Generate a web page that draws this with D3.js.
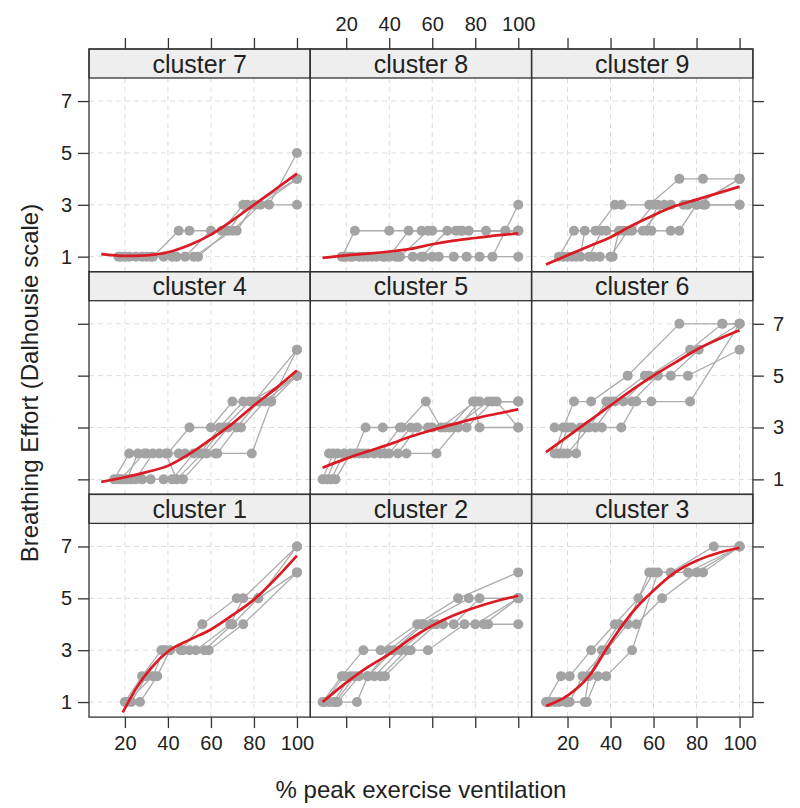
<!DOCTYPE html>
<html>
<head>
<meta charset="utf-8">
<script src="https://cdn.jsdelivr.net/npm/d3@7"></script>
<style>
  body { margin: 0; background: #fff; }
  svg { display: block; font-family: "Liberation Sans", Arial, sans-serif; }
</style>
</head>
<body>
<svg id="chart" width="800" height="808"></svg>
<script>
// panel order, as drawn from top-left
var clusterOrder = [7, 8, 9, 4, 5, 6, 1, 2, 3];
var xTicks = [20, 40, 60, 80, 100];
var yTicks = [1, 3, 5, 7];

// one list of [x, y] per subject, plus the red smooth
var subjects7 = [
  [[17,1],[25,1],[33,1],[45,2],[50,2],[65,2],[75,3],[87,3],[100,5]],
  [[18,1],[28,1],[38,1],[48,1],[60,2],[72,2],[80,3],[100,4]],
  [[20,1],[30,1],[42,1],[54,1],[68,2],[77,3],[100,3]],
  [[22,1],[32,1],[44,1],[52,1],[70,2],[83,3],[100,4]]
];
var fit7 = [[9,1.1],[20,1.03],[30,1.05],[40,1.17],[50,1.45],[60,1.85],[70,2.4],[80,3.0],[90,3.6],[100,4.2]];

var subjects8 = [
  [[18,1],[24,2],[40,2],[55,2],[71,2],[85,2],[100,2]],
  [[20,1],[30,1],[40,1],[49,2],[60,2],[74,2],[94,2],[100,3]],
  [[22,1],[34,1],[44,1],[55,1],[67,2],[77,2],[100,2]],
  [[19,1],[28,1],[38,1],[51,1],[60,1],[70,1],[82,1],[100,1]],
  [[23,1],[32,1],[43,1],[56,1],[63,1],[76,1],[88,1],[94,2],[100,2]],
  [[26,1],[37,1],[45,1],[58,2],[73,2],[100,2]]
];
var fit8 = [[9,0.95],[20,1.05],[30,1.12],[40,1.2],[50,1.3],[60,1.48],[70,1.62],[80,1.72],[90,1.82],[100,1.9]];

var subjects9 = [
  [[16,1],[23,2],[33,2],[42,3],[45,3],[58,3],[72,4],[83,4],[100,4]],
  [[18,1],[26,1],[28,2],[38,2],[50,2],[60,3],[68,3],[80,3],[100,4]],
  [[20,1],[30,1],[36,2],[46,2],[57,2],[62,3],[76,3],[84,3],[100,3]],
  [[22,1],[32,1],[40,1],[48,2],[59,2],[68,2],[72,2],[80,3],[100,4]],
  [[24,1],[35,1],[41,1],[44,2],[55,2],[65,3],[74,3],[83,3],[100,3]]
];
var fit9 = [[10,0.7],[20,1.05],[30,1.4],[40,1.75],[50,2.2],[60,2.6],[70,2.95],[80,3.2],[90,3.45],[100,3.7]];

var subjects4 = [
  [[15,1],[22,2],[30,2],[40,2],[50,3],[60,3],[70,4],[80,4],[100,6]],
  [[17,1],[25,1],[33,2],[45,2],[55,2],[64,3],[75,4],[88,4],[100,5]],
  [[19,1],[28,1],[38,1],[47,1],[58,2],[68,3],[74,3],[85,4],[100,5]],
  [[21,1],[26,2],[36,2],[48,2],[62,2],[79,2],[88,4],[100,6]],
  [[23,1],[32,1],[42,1],[52,2],[63,2],[72,3],[82,4],[100,5]],
  [[18,1],[29,2],[39,2],[44,1],[56,2],[66,3],[78,4],[100,5]]
];
var fit4 = [[9,0.9],[20,1.08],[30,1.28],[40,1.52],[50,1.98],[60,2.55],[70,3.15],[80,3.85],[90,4.5],[100,5.2]];

var subjects5 = [
  [[9,1],[14,2],[24,2],[29,3],[37,3],[46,3],[57,4],[64,3],[80,4],[100,4]],
  [[11,1],[16,2],[28,2],[38,2],[48,2],[62,2],[72,3],[82,4],[90,4],[100,3]],
  [[13,1],[19,2],[30,2],[40,2],[50,3],[60,3],[70,3],[86,4],[100,4]],
  [[15,1],[22,2],[33,2],[44,2],[53,3],[66,3],[76,3],[88,4],[100,4]],
  [[12,2],[26,2],[36,2],[45,3],[58,3],[68,3],[79,4],[82,3],[100,3]]
];
var fit5 = [[9,1.45],[20,1.8],[30,2.08],[40,2.35],[50,2.65],[60,2.9],[70,3.13],[80,3.35],[90,3.53],[100,3.7]];

var subjects6 = [
  [[14,2],[18,3],[23,4],[31,4],[48,5],[72,7],[92,7],[100,7]],
  [[16,2],[20,3],[28,3],[40,4],[56,5],[68,5],[81,6],[100,7]],
  [[18,2],[24,2],[26,3],[36,3],[45,3],[52,4],[59,4],[77,4],[100,7]],
  [[14,3],[22,3],[33,3],[42,4],[50,4],[62,5],[76,5],[100,6]],
  [[20,2],[30,3],[38,4],[46,4],[58,5],[77,6],[92,7],[100,7]]
];
var fit6 = [[10,2.05],[20,2.65],[30,3.25],[40,3.85],[50,4.45],[60,5.0],[70,5.5],[80,6.0],[90,6.4],[100,6.75]];

var subjects1 = [
  [[20,1],[28,2],[37,3],[46,3],[56,4],[72,5],[82,5],[100,7]],
  [[23,1],[30,2],[39,3],[50,3],[59,3],[75,4],[100,6]],
  [[27,1],[35,2],[41,3],[53,3],[69,4],[75,5],[100,7]],
  [[21,1],[33,2],[38,3],[47,3],[57,3],[70,4],[82,5],[100,6]]
];
var fit1 = [[19,0.6],[25,1.5],[32,2.3],[40,2.95],[50,3.4],[60,3.8],[70,4.35],[80,4.95],[90,5.75],[100,6.65]];

var subjects2 = [
  [[9,1],[18,2],[28,3],[36,3],[53,4],[72,5],[100,6]],
  [[12,1],[25,1],[30,2],[40,3],[55,4],[77,5],[100,5]],
  [[14,1],[22,2],[33,2],[45,3],[60,4],[70,4],[82,5],[100,5]],
  [[16,1],[26,2],[38,2],[50,3],[58,3],[75,4],[86,4],[100,4]],
  [[10,1],[19,2],[30,2],[42,3],[56,4],[65,4],[80,4],[100,5]],
  [[15,1],[24,2],[36,2],[48,3],[62,4],[84,4],[100,5]]
];
var fit2 = [[9,1.0],[20,1.75],[30,2.35],[40,2.85],[50,3.45],[60,3.95],[70,4.35],[80,4.65],[90,4.9],[100,5.1]];

var subjects3 = [
  [[10,1],[17,2],[21,2],[31,3],[42,4],[53,5],[60,6],[68,6],[88,7],[100,7]],
  [[12,1],[16,1],[21,1],[27,2],[38,3],[48,4],[58,6],[76,6],[100,7]],
  [[14,1],[20,1],[28,1],[30,2],[36,3],[44,4],[52,4],[64,5],[80,6],[100,7]],
  [[11,1],[19,1],[29,1],[34,2],[38,2],[50,3],[62,6],[83,6],[100,7]]
];
var fit3 = [[10,0.85],[20,1.25],[30,2.0],[40,3.3],[50,4.45],[60,5.3],[70,6.0],[80,6.45],[90,6.75],[100,6.95]];

var panelData = {
  1: {subj: subjects1, fit: fit1}, 2: {subj: subjects2, fit: fit2}, 3: {subj: subjects3, fit: fit3},
  4: {subj: subjects4, fit: fit4}, 5: {subj: subjects5, fit: fit5}, 6: {subj: subjects6, fit: fit6},
  7: {subj: subjects7, fit: fit7}, 8: {subj: subjects8, fit: fit8}, 9: {subj: subjects9, fit: fit9}
};

var svg = d3.select("#chart");
var leftX = 89, topY = 49, panelW = 221.3, rowH = 222.7, stripH = 29, tickLen = 11;
var xDomain = [3.3, 106.2], yDomain = [0.42, 7.89];
var ink = "#333";

clusterOrder.forEach(function(cl, i) {
  var col = i % 3, row = Math.floor(i / 3);
  var x0 = leftX + col * panelW, y0 = topY + row * rowH;
  var x = d3.scaleLinear().domain(xDomain).range([x0, x0 + panelW]);
  var y = d3.scaleLinear().domain(yDomain).range([y0 + rowH, y0 + stripH]);
  var g = svg.append("g");

  g.append("clipPath").attr("id", "clip" + cl)
    .append("rect").attr("x", x0).attr("y", y0 + stripH).attr("width", panelW).attr("height", rowH - stripH);

  // grille pointillée
  g.selectAll(".gx").data(xTicks).enter().append("line")
    .attr("x1", function(d) { return x(d); }).attr("x2", function(d) { return x(d); })
    .attr("y1", y0 + stripH).attr("y2", y0 + rowH)
    .attr("stroke", "#dcdcdc").attr("stroke-dasharray", "5,4");
  g.selectAll(".gy").data(yTicks).enter().append("line")
    .attr("y1", function(d) { return y(d); }).attr("y2", function(d) { return y(d); })
    .attr("x1", x0).attr("x2", x0 + panelW)
    .attr("stroke", "#dcdcdc").attr("stroke-dasharray", "5,4");

  var body = g.append("g").attr("clip-path", "url(#clip" + cl + ")");
  var line = d3.line().x(function(d) { return x(d[0]); }).y(function(d) { return y(d[1]); });
  var pd = panelData[cl];

  body.selectAll(".subj").data(pd.subj).enter().append("path")
    .attr("d", line).attr("fill", "none").attr("stroke", "#acacac").attr("stroke-width", 1.3);
  pd.subj.forEach(function(s) {
    body.selectAll(null).data(s).enter().append("circle")
      .attr("cx", function(d) { return x(d[0]); }).attr("cy", function(d) { return y(d[1]); })
      .attr("r", 5).attr("fill", "#a3a3a3");
  });
  body.append("path").datum(pd.fit)
    .attr("d", line.curve(d3.curveMonotoneX))
    .attr("fill", "none").attr("stroke", "#dc1a24").attr("stroke-width", 2.7);

  // strip
  g.append("rect").attr("x", x0).attr("y", y0).attr("width", panelW).attr("height", stripH)
    .attr("fill", "#eeeeee").attr("stroke", ink).attr("stroke-width", 1.3);
  g.append("text").attr("x", x0 + panelW / 2).attr("y", y0 + stripH / 2).attr("dy", "0.36em")
    .attr("text-anchor", "middle").attr("font-size", 25).attr("fill", "#222")
    .text("cluster " + cl);
  g.append("rect").attr("x", x0).attr("y", y0).attr("width", panelW).attr("height", rowH)
    .attr("fill", "none").attr("stroke", ink).attr("stroke-width", 1.3);

  // axes extérieurs
  if (row === 0) {
    var ax = g.append("g").attr("transform", "translate(0," + y0 + ")")
      .call(d3.axisTop(x).tickValues(xTicks).tickSize(tickLen).tickPadding(7)
        .tickFormat(col === 1 ? d3.format("d") : function() { return ""; }));
    styleAxis(ax);
  }
  if (row === 2) {
    var bx = g.append("g").attr("transform", "translate(0," + (y0 + rowH) + ")")
      .call(d3.axisBottom(x).tickValues(xTicks).tickSize(tickLen).tickPadding(8)
        .tickFormat(col !== 1 ? d3.format("d") : function() { return ""; }));
    styleAxis(bx);
  }
  if (col === 0) {
    var ly = g.append("g").attr("transform", "translate(" + x0 + ",0)")
      .call(d3.axisLeft(y).tickValues(yTicks).tickSize(tickLen).tickPadding(6)
        .tickFormat(row !== 1 ? d3.format("d") : function() { return ""; }));
    styleAxis(ly);
  }
  if (col === 2) {
    var ry = g.append("g").attr("transform", "translate(" + (x0 + panelW) + ",0)")
      .call(d3.axisRight(y).tickValues(yTicks).tickSize(tickLen).tickPadding(9)
        .tickFormat(row === 1 ? d3.format("d") : function() { return ""; }));
    styleAxis(ry);
  }
});

function styleAxis(a) {
  a.select(".domain").remove();
  a.selectAll(".tick line").attr("stroke", ink).attr("stroke-width", 1.3);
  a.selectAll(".tick text").attr("fill", "#222").attr("font-size", 20)
    .attr("font-family", "Liberation Sans, Arial, sans-serif");
}

// titres des axes
svg.append("text").attr("x", leftX + 1.5 * panelW).attr("y", 798)
  .attr("text-anchor", "middle").attr("font-size", 24).attr("fill", "#222")
  .text("% peak exercise ventilation");
svg.append("text")
  .attr("transform", "translate(30," + (topY + 1.5 * rowH) + ") rotate(-90)")
  .attr("text-anchor", "middle").attr("dy", "0.35em").attr("font-size", 24).attr("fill", "#222")
  .text("Breathing Effort (Dalhousie scale)");
</script>
</body>
</html>
